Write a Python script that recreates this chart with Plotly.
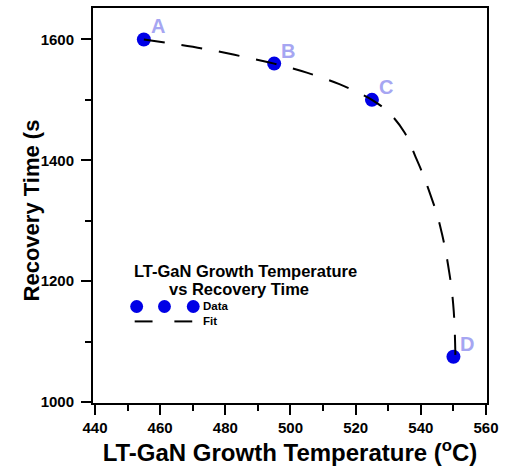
import plotly.graph_objects as go

# Data points
temps = [455, 495, 525, 550]
recovery = [1600, 1560, 1500, 1075]
point_labels = ["A", "B", "C", "D"]

# Fit curve
fit_x = [455, 465, 475, 485, 495, 505, 515, 520, 525, 530, 535, 538.5,
         541, 543, 545, 546.5, 547.7, 548.7, 549.5, 550.1, 550.4, 550.6]
fit_y = [1600, 1592, 1583, 1572, 1560, 1545, 1526, 1514, 1500, 1480, 1446, 1404,
         1372, 1342, 1310, 1278, 1247, 1215, 1185, 1150, 1118, 1078]

x_ticks = [440, 460, 480, 500, 520, 540, 560]
y_ticks = [1000, 1200, 1400, 1600]

W, H = 505, 468
L, R, T, B = 93, 15, 6, 65
PW, PH = W - L - R, H - T - B


def px(xp):
    return (xp - L) / PW


def py(yp):
    return (H - B - yp) / PH


FONT = "Liberation Sans, Arial, sans-serif"
BLUE = "#0000E6"
LAV = "#A6A6F2"

fig = go.Figure()
fig.add_trace(go.Scatter(x=temps, y=recovery, mode="markers",
                         marker=dict(size=14, color=BLUE, line=dict(width=0)),
                         showlegend=False))
fig.add_trace(go.Scatter(x=fit_x, y=fit_y, mode="lines", line_shape="spline",
                         line=dict(color="black", width=2, dash="21px,17px"),
                         showlegend=False))

for xv, yv, lab in zip(temps, recovery, point_labels):
    fig.add_annotation(x=xv, y=yv, text="<b>" + lab + "</b>", showarrow=False,
                       xshift=14, yshift=13,
                       font=dict(family=FONT, size=20, color=LAV))

# Legend (drawn manually)
fig.add_annotation(x=px(247), y=py(270), xref="paper", yref="paper",
                   xanchor="center", yanchor="middle",
                   text="<b>LT-GaN Growth Temperature</b>", showarrow=False,
                   font=dict(family=FONT, size=16.5, color="black"))
fig.add_annotation(x=px(240), y=py(288), xref="paper", yref="paper",
                   xanchor="center", yanchor="middle",
                   text="<b>vs Recovery Time</b>", showarrow=False,
                   font=dict(family=FONT, size=16.5, color="black"))
for cx in [137, 165, 194]:
    fig.add_shape(type="circle", xref="paper", yref="paper",
                  x0=px(cx - 6.5), x1=px(cx + 6.5), y0=py(306 + 6.5), y1=py(306 - 6.5),
                  fillcolor=BLUE, line=dict(width=0))
for x0, x1 in [(135, 153), (175, 193)]:
    fig.add_shape(type="line", xref="paper", yref="paper",
                  x0=px(x0), x1=px(x1), y0=py(321), y1=py(321),
                  line=dict(color="black", width=2))
fig.add_annotation(x=px(202), y=py(306), xref="paper", yref="paper",
                   xanchor="left", yanchor="middle",
                   text="<b>Data</b>", showarrow=False,
                   font=dict(family=FONT, size=11.5, color="black"))
fig.add_annotation(x=px(202), y=py(321), xref="paper", yref="paper",
                   xanchor="left", yanchor="middle",
                   text="<b>Fit</b>", showarrow=False,
                   font=dict(family=FONT, size=11.5, color="black"))

# Y axis title (drawn as annotation for exact placement)
fig.add_annotation(x=px(32), y=py(209), xref="paper", yref="paper",
                   xanchor="center", yanchor="middle", textangle=-90,
                   text="<b>Recovery Time (s</b>", showarrow=False,
                   font=dict(family=FONT, size=22, color="black"))

axis_common = dict(showline=True, linecolor="black", linewidth=2, mirror=True,
                   showgrid=False, zeroline=False, ticks="outside", ticklen=10,
                   tickwidth=2, tickcolor="black",
                   tickfont=dict(family=FONT, size=15, color="black", weight="bold"))

fig.update_xaxes(range=[439.4, 560.3], tickvals=x_ticks,
                 ticktext=[str(v) for v in x_ticks], ticklabelstandoff=0,
                 minor=dict(dtick=10, ticklen=6, tickwidth=2, tickcolor="black", ticks="outside"),
                 title=dict(text="<b>LT-GaN Growth Temperature (<sup>o</sup>C)</b>",
                            font=dict(family=FONT, size=24, color="black"), standoff=1),
                 **axis_common)
fig.update_yaxes(range=[998.4, 1652], tickvals=y_ticks,
                 ticktext=[str(v) for v in y_ticks], ticklabelstandoff=4,
                 minor=dict(dtick=100, ticklen=6, tickwidth=2, tickcolor="black", ticks="outside"),
                 **axis_common)

fig.update_layout(width=W, height=H, margin=dict(l=L, r=R, t=T, b=B),
                  plot_bgcolor="white", paper_bgcolor="white", showlegend=False)

fig.write_html("out.html")
